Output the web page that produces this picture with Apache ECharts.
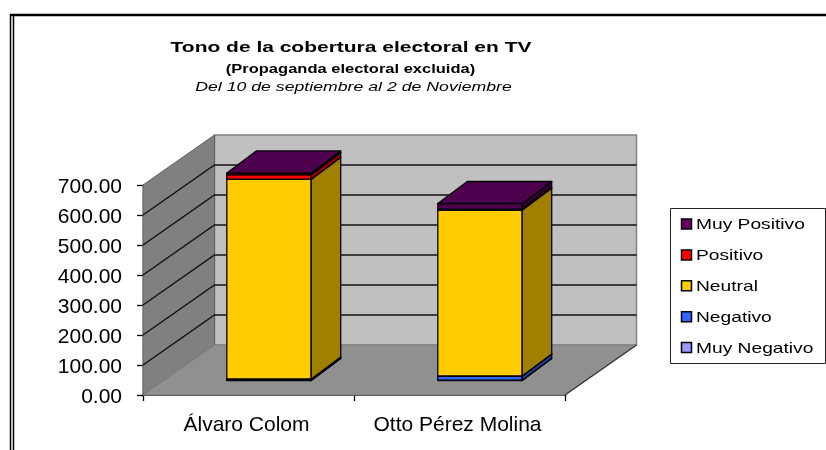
<!DOCTYPE html>
<html>
<head>
<meta charset="utf-8">
<style>html,body{margin:0;padding:0;background:#fff}#main{width:826px;height:450px}</style>
<script src="https://cdn.jsdelivr.net/npm/echarts@6/dist/echarts.min.js"></script>
</head>
<body>
<div id="main"></div>
<script>
var categories = ['Álvaro Colom', 'Otto Pérez Molina'];
var seriesNames = ['Muy Negativo', 'Negativo', 'Neutral', 'Positivo', 'Muy Positivo'];
var muyNegativo = [1, 1];
var negativo = [4, 14];
var neutral = [666, 553];
var positivo = [15, 3];
var muyPositivo = [6, 19];
var yTicks = [0, 100, 200, 300, 400, 500, 600, 700];

var seriesValues = [muyNegativo, negativo, neutral, positivo, muyPositivo];
var colors = ['#9999ff', '#3366ff', '#ffcc00', '#ff0000', '#4d004d'];
var sideColors = ['#6060a0', '#2040a0', '#a08000', '#a00000', '#300030'];

var FONT = '"Liberation Sans", Arial, sans-serif';
// 3D look: depth of the chart box and of the bars, in pixels
var DEPTH_X = 71.5, DEPTH_Y = -50;
var BAR_OFF_X = 20.5, BAR_OFF_Y = -14.5;
var BAR_DEPTH_X = 29.5, BAR_DEPTH_Y = -22;

var myChart = echarts.init(document.getElementById('main'));

function renderWalls(params, api) {
	var lo = api.coord([0, 0]);
	var band = api.size([1, 0])[0];
	var x0 = lo[0] - band / 2, x1 = x0 + band * categories.length, y0 = lo[1];
	var yTop = api.coord([0, yTicks[yTicks.length - 1]])[1];
	var children = [
		// back wall
		{type: 'polygon', shape: {points: [[x0 + DEPTH_X, y0 + DEPTH_Y], [x1 + DEPTH_X, y0 + DEPTH_Y], [x1 + DEPTH_X, yTop + DEPTH_Y], [x0 + DEPTH_X, yTop + DEPTH_Y]]},
			style: {fill: '#c0c0c0', stroke: '#808080', lineWidth: 1.5}},
		// left wall
		{type: 'polygon', shape: {points: [[x0, y0], [x0 + DEPTH_X, y0 + DEPTH_Y], [x0 + DEPTH_X, yTop + DEPTH_Y], [x0, yTop]]},
			style: {fill: '#808080', stroke: '#606060', lineWidth: 1}},
		// floor
		{type: 'polygon', shape: {points: [[x0, y0], [x1, y0], [x1 + DEPTH_X, y0 + DEPTH_Y], [x0 + DEPTH_X, y0 + DEPTH_Y]]},
			style: {fill: '#909090', stroke: '#808080', lineWidth: 1}},
		{type: 'line', shape: {x1: x1, y1: y0, x2: x1 + DEPTH_X, y2: y0 + DEPTH_Y}, style: {stroke: '#333', lineWidth: 1.2}}
	];
	for (var i = 1; i < yTicks.length - 1; i++) {
		var y = api.coord([0, yTicks[i]])[1];
		children.push({type: 'polyline', shape: {points: [[x0, y], [x0 + DEPTH_X, y + DEPTH_Y], [x1 + DEPTH_X, y + DEPTH_Y]]},
			style: {fill: null, stroke: '#111', lineWidth: 1.4}});
	}
	return {type: 'group', children: children};
}

function renderBar(params, api) {
	var a = api.coord([api.value(0), api.value(1)]);
	var b = api.coord([api.value(0), api.value(2)]);
	var w = api.size([1, 0])[0] * 0.4;
	var xl = a[0] - w / 2 + BAR_OFF_X, xr = xl + w;
	var yb = a[1] + BAR_OFF_Y, yt = b[1] + BAR_OFF_Y;
	var line = {stroke: '#000', lineWidth: 1.3, lineJoin: 'round'};
	var idx = params.seriesIndex - 1;
	return {type: 'group', children: [
		{type: 'polygon', shape: {points: [[xl, yb], [xr, yb], [xr, yt], [xl, yt]]},
			style: Object.assign({fill: colors[idx]}, line)},
		{type: 'polygon', shape: {points: [[xr, yb], [xr + BAR_DEPTH_X, yb + BAR_DEPTH_Y], [xr + BAR_DEPTH_X, yt + BAR_DEPTH_Y], [xr, yt]]},
			style: Object.assign({fill: sideColors[idx]}, line)},
		{type: 'polygon', shape: {points: [[xl, yt], [xr, yt], [xr + BAR_DEPTH_X, yt + BAR_DEPTH_Y], [xl + BAR_DEPTH_X, yt + BAR_DEPTH_Y]]},
			style: Object.assign({fill: colors[idx]}, line)}
	]};
}

var series = [{
	type: 'custom',
	name: 'walls',
	silent: true,
	z: 1,
	data: [[0, 0]],
	renderItem: renderWalls
}];
seriesNames.forEach(function (name, s) {
	var data = categories.map(function (c, i) {
		var start = 0;
		for (var k = 0; k < s; k++) start += seriesValues[k][i];
		return [i, start, start + seriesValues[s][i]];
	});
	series.push({
		type: 'custom',
		name: name,
		z: 2 + s,
		itemStyle: {color: colors[s]},
		encode: {x: 0, y: 2},
		data: data,
		renderItem: renderBar
	});
});

// the source text is stretched sideways, so texts get a scaleX
function stretched(text, x, y, scaleX, font, align) {
	return {
		type: 'text', x: x, y: y, scaleX: scaleX, z: 100,
		style: {text: text, font: font, fill: '#000', textAlign: align || 'center', textVerticalAlign: 'middle'}
	};
}

var graphics = [
	// page frame around the chart
	{type: 'line', z: 100, shape: {x1: 10.5, y1: 14, x2: 10.5, y2: 450}, style: {stroke: '#000', lineWidth: 1.5}},
	{type: 'line', z: 100, shape: {x1: 13.5, y1: 15, x2: 13.5, y2: 450}, style: {stroke: '#000', lineWidth: 1.5}},
	{type: 'line', z: 100, shape: {x1: 10, y1: 15, x2: 826, y2: 15}, style: {stroke: '#000', lineWidth: 2.5}},
	// titles
	stretched('Tono de la cobertura electoral en TV', 351, 47.5, 1.353, 'bold 15.5px ' + FONT),
	stretched('(Propaganda electoral excluida)', 350.5, 70, 1.32, 'bold 12.5px ' + FONT),
	stretched('Del 10 de septiembre al 2 de Noviembre', 353.5, 88, 1.415, 'italic 12.5px ' + FONT),
	// legend box
	{type: 'rect', z: 99, shape: {x: 670.5, y: 208.5, width: 155, height: 155}, style: {fill: '#fff', stroke: '#222', lineWidth: 1}}
];
seriesNames.slice().reverse().forEach(function (name, i) {
	var y = 224 + i * 30.9;
	var idx = seriesNames.length - 1 - i;
	graphics.push({type: 'rect', z: 100, shape: {x: 681.5, y: y - 5, width: 10, height: 10},
		style: {fill: idx === 4 ? '#660066' : colors[idx], stroke: '#000', lineWidth: 1.5}});
	graphics.push(stretched(name, 696, y + 1, 1.28, '15px ' + FONT, 'left'));
});

var option = {
	animation: false,
	backgroundColor: '#fff',
	grid: {left: 143, top: 185, width: 422, height: 210, containLabel: false},
	xAxis: {
		type: 'category',
		data: categories,
		axisLine: {lineStyle: {color: '#000', width: 1.5}},
		axisTick: {show: true, interval: 0, alignWithLabel: false, length: 6, lineStyle: {color: '#000', width: 1.3}},
		axisLabel: {
			interval: 0,
			hideOverlap: false,
			margin: 20,
			formatter: function (v) { return '{a|' + v + '}'; },
			rich: {a: {fontFamily: FONT, fontSize: 21, color: '#000', padding: [0, 4, 0, 0]}}
		}
	},
	yAxis: {
		type: 'value',
		min: 0,
		max: 700,
		interval: 100,
		axisLine: {show: true, lineStyle: {color: '#000', width: 1.3}},
		axisTick: {show: true, length: 6, lineStyle: {color: '#000', width: 1.3}},
		axisLabel: {
			margin: 21,
			formatter: function (v) { return '{a|' + v.toFixed(2) + '}'; },
			rich: {a: {fontFamily: FONT, fontSize: 21, color: '#000', padding: [5, 0, 0, 0]}}
		},
		splitLine: {show: false}
	},
	graphic: graphics,
	series: series
};

myChart.setOption(option);
</script>
</body>
</html>
